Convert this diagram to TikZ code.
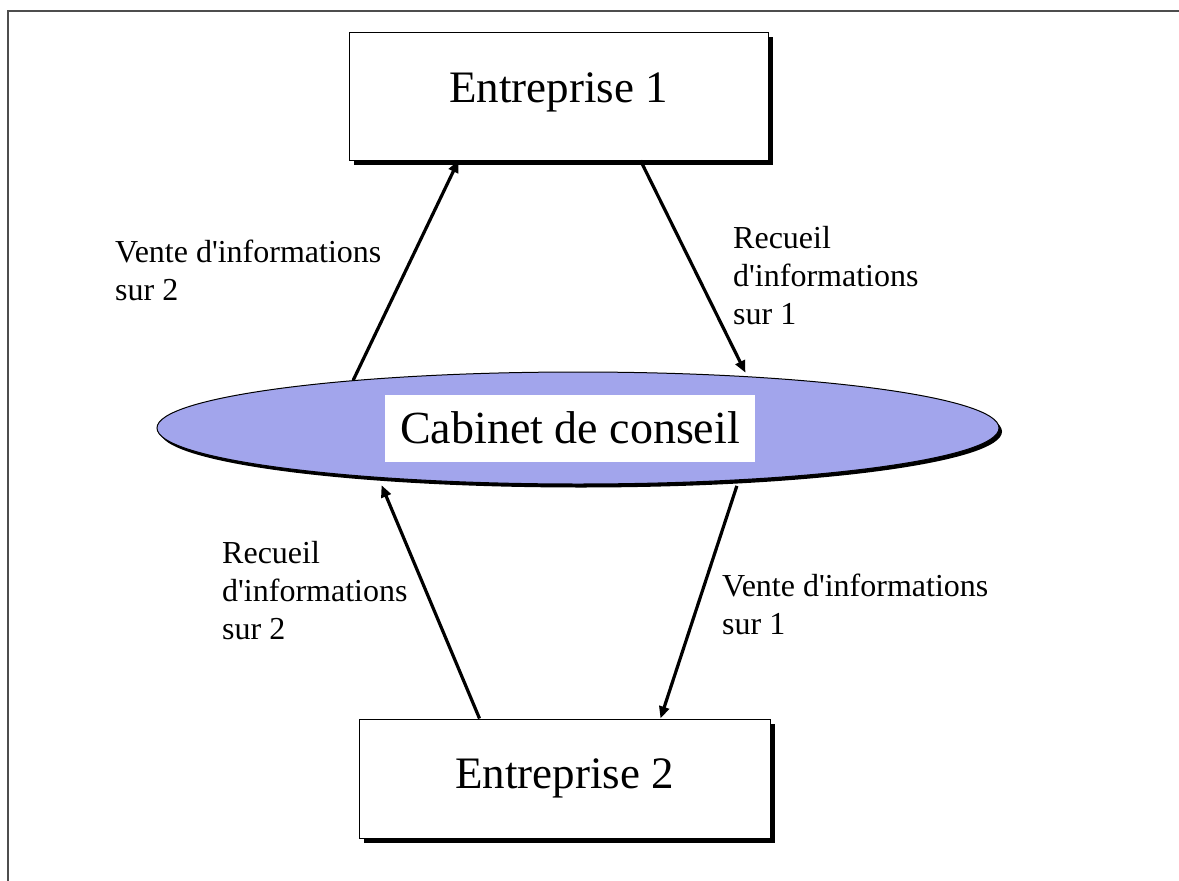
\documentclass[tikz,border=0pt]{standalone}
\usepackage{fontspec}
\setmainfont{Liberation Serif}
\usepackage{tikz}
\usetikzlibrary{positioning, arrows.meta, shapes.geometric, shadows}
\definecolor{cCabinet}{HTML}{A2A5EC}
\definecolor{cFrame}  {HTML}{4D4D4D}
\newcommand{\apos}{\textquotesingle}
\tikzset{
  entbox/.style={draw, fill=white, line width=1pt, minimum width=419pt, minimum height=128pt,
                 font=\fontsize{45}{54}\selectfont,
                 drop shadow={shadow xshift=4.5pt, shadow yshift=-4.5pt, fill=black, opacity=1}},
  cabell/.style={ellipse, draw, line width=1pt, fill=cCabinet, minimum width=842pt, minimum height=112pt,
                 drop shadow={shadow xshift=3pt, shadow yshift=-3.5pt, fill=black, opacity=1}},
  cabtxt/.style={fill=white, minimum width=370pt, minimum height=67pt, inner sep=0pt,
                 font=\fontsize{46}{55}\selectfont},
  flow/.style={-{Triangle[length=12pt,width=10pt]}, line width=3.2pt},
  lbl/.style={anchor=north west, align=left, inner sep=0pt, font=\fontsize{32}{38}\selectfont},
}
\begin{document}
\begin{tikzpicture}[x=1pt, y=-1pt]
  \useasboundingbox (0,0) rectangle (1179,881);
  % frame
  \draw[cFrame, line width=1.8pt] (8,881) -- (8,11) -- (1179,11);

  % the three parties
  \node[entbox, text height=31pt, text depth=19pt] (ent1) at (558.5,96) {Entreprise 1};
  \node[entbox, minimum width=411pt, minimum height=119pt] (ent2) at (564.5,778.5) {Entreprise 2};
  \node[cabell] (cab) at (578,428) {};
  \node[cabtxt] (cabname) at (570,428) {Cabinet de conseil};

  % flows
  \draw[flow] (cab.168) -- ([xshift=-100pt]ent1.south);
  \draw[flow, shorten >=4pt] ([xshift=82pt]ent1.south) -- (cab.17);
  \draw[flow, shorten >=8pt] ([xshift=-85pt]ent2.north) -- (cab.194);
  \draw[flow, shorten <=6pt] (cab.342) -- ([xshift=96pt]ent2.north);

  % flow labels
  \node[lbl] (venteA) at (115,240) {Vente d\apos informations\\sur 2};
  \node[lbl] (recA)   at (733,226) {Recueil\\d\apos informations\\sur 1};
  \node[lbl] (recB)   at (222,541) {Recueil\\d\apos informations\\sur 2};
  \node[lbl] (venteB) at (722,574) {Vente d\apos informations\\sur 1};
\end{tikzpicture}
\end{document}
